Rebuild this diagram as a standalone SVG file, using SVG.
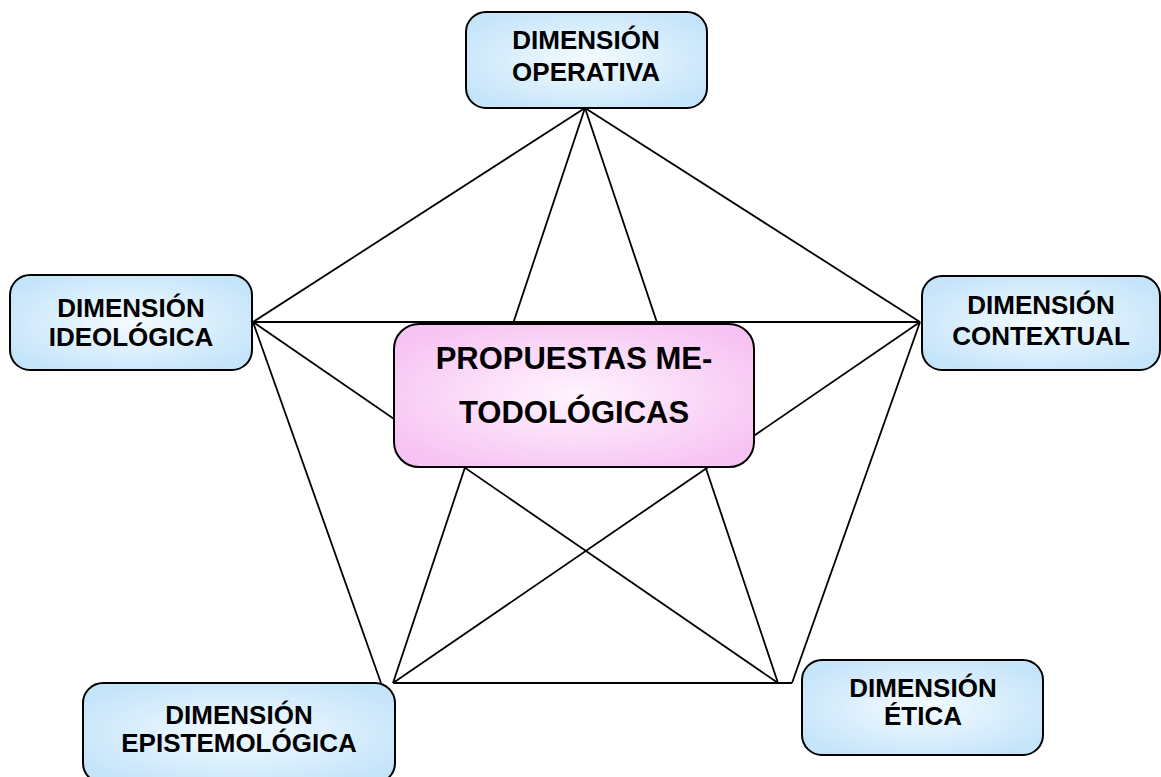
<svg xmlns="http://www.w3.org/2000/svg" width="1161" height="777" viewBox="0 0 1161 777">
<defs>
<radialGradient id="gb" cx="50%" cy="50%" r="60%">
<stop offset="0" stop-color="#f4fbff"/>
<stop offset="1" stop-color="#c4e4fa"/>
</radialGradient>
<radialGradient id="gp" cx="50%" cy="50%" r="60%">
<stop offset="0" stop-color="#fff4fe"/>
<stop offset="1" stop-color="#f7c3f3"/>
</radialGradient>
<style>
.box{fill:url(#gb);stroke:#000;stroke-width:2}
.cbox{fill:url(#gp);stroke:#000;stroke-width:2}
.t{font-family:"Liberation Sans",Arial,sans-serif;font-weight:bold;font-size:26px;fill:#000;text-anchor:middle}
.ct{font-family:"Liberation Sans",Arial,sans-serif;font-weight:bold;font-size:31px;fill:#000;text-anchor:middle}
#connectors line{stroke:#000;stroke-width:1.8}
</style>
</defs>
<rect width="1161" height="777" fill="#fff"/>
<g id="connectors">
<line x1="585" y1="108" x2="253" y2="322"/>
<line x1="585" y1="108" x2="920" y2="322"/>
<line x1="253" y1="322" x2="920" y2="322"/>
<line x1="253" y1="322" x2="381" y2="683"/>
<line x1="920" y1="322" x2="792" y2="683"/>
<line x1="393" y1="683" x2="792" y2="683"/>
<line x1="585" y1="108" x2="393" y2="683"/>
<line x1="585" y1="108" x2="778" y2="683"/>
<line x1="253" y1="322" x2="778" y2="683"/>
<line x1="920" y1="322" x2="393" y2="683"/>
</g>
<g id="n-operativa">
<rect class="box" x="466" y="12" width="241" height="96" rx="20"/>
<text class="t" x="586" y="49">DIMENSIÓN</text>
<text class="t" x="586" y="81">OPERATIVA</text>
</g>
<g id="n-ideologica">
<rect class="box" x="10" y="275" width="242" height="95" rx="20"/>
<text class="t" x="131" y="317">DIMENSIÓN</text>
<text class="t" x="131" y="346">IDEOLÓGICA</text>
</g>
<g id="n-contextual">
<rect class="box" x="922" y="276" width="238" height="94" rx="20"/>
<text class="t" x="1041" y="314">DIMENSIÓN</text>
<text class="t" x="1041" y="345">CONTEXTUAL</text>
</g>
<g id="n-epistemologica">
<rect class="box" x="83" y="683" width="312" height="100" rx="20"/>
<text class="t" x="239" y="724">DIMENSIÓN</text>
<text class="t" x="239" y="752">EPISTEMOLÓGICA</text>
</g>
<g id="n-etica">
<rect class="box" x="802" y="660" width="241" height="95" rx="20"/>
<text class="t" x="923" y="697">DIMENSIÓN</text>
<text class="t" x="923" y="725">ÉTICA</text>
</g>
<g id="n-central">
<rect class="cbox" x="394" y="324" width="360" height="143" rx="25"/>
<text class="ct" x="574" y="369">PROPUESTAS ME-</text>
<text class="ct" x="574" y="423">TODOLÓGICAS</text>
</g>
</svg>
